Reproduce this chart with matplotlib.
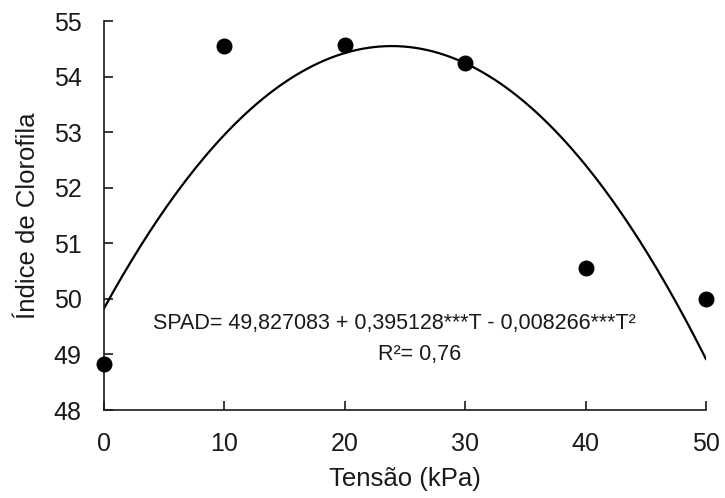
import numpy as np
import matplotlib
matplotlib.use("Agg")
import matplotlib.pyplot as plt

# observed SPAD readings per soil water tension
tensao = [0, 10, 20, 30, 40, 50]
spad = [48.82, 54.55, 54.57, 54.24, 50.56, 50.0]

# fitted quadratic (from the chart's equation)
coef_a = 49.827083
coef_b = 0.395128
coef_c = -0.008266

equation = "SPAD= 49,827083 + 0,395128***T - 0,008266***T²"
r2_text = "R²= 0,76"

plt.rcParams['font.family'] = ['Liberation Sans', 'DejaVu Sans']

fig = plt.figure(figsize=(7.25, 4.98), dpi=100)
ax = fig.add_axes([0.1434, 0.1767, 0.8303, 0.7811])

t = np.linspace(min(tensao), max(tensao), 200)
ax.plot(t, coef_a + coef_b * t + coef_c * t ** 2, color='black', lw=1.6, zorder=2)
ax.scatter(tensao, spad, s=110, color='black', zorder=3, clip_on=False)

ax.set_xlim(0, 50)
ax.set_ylim(48, 55)
ax.set_xticks(tensao)
ax.set_yticks(range(48, 56))

for s in ['top', 'right']:
    ax.spines[s].set_visible(False)
for s in ['left', 'bottom']:
    ax.spines[s].set_linewidth(1.2)
    ax.spines[s].set_color('#1a1a1a')

ax.tick_params(axis='both', direction='in', length=6.5, width=1.2, color='#1a1a1a',
               labelsize=18, labelcolor='#1a1a1a', pad=16)

ax.text(24.1, 49.55, equation, ha='center', va='center', fontsize=15.5, color='#1a1a1a')
ax.text(26.2, 48.99, r2_text, ha='center', va='center', fontsize=15.5, color='#1a1a1a')

ax.set_xlabel('Tensão (kPa)', fontsize=18.5, color='#1a1a1a', labelpad=8)
ax.set_ylabel('Índice de Clorofila', fontsize=18.5, color='#1a1a1a', labelpad=10)

fig.savefig('out.png', dpi=100)
